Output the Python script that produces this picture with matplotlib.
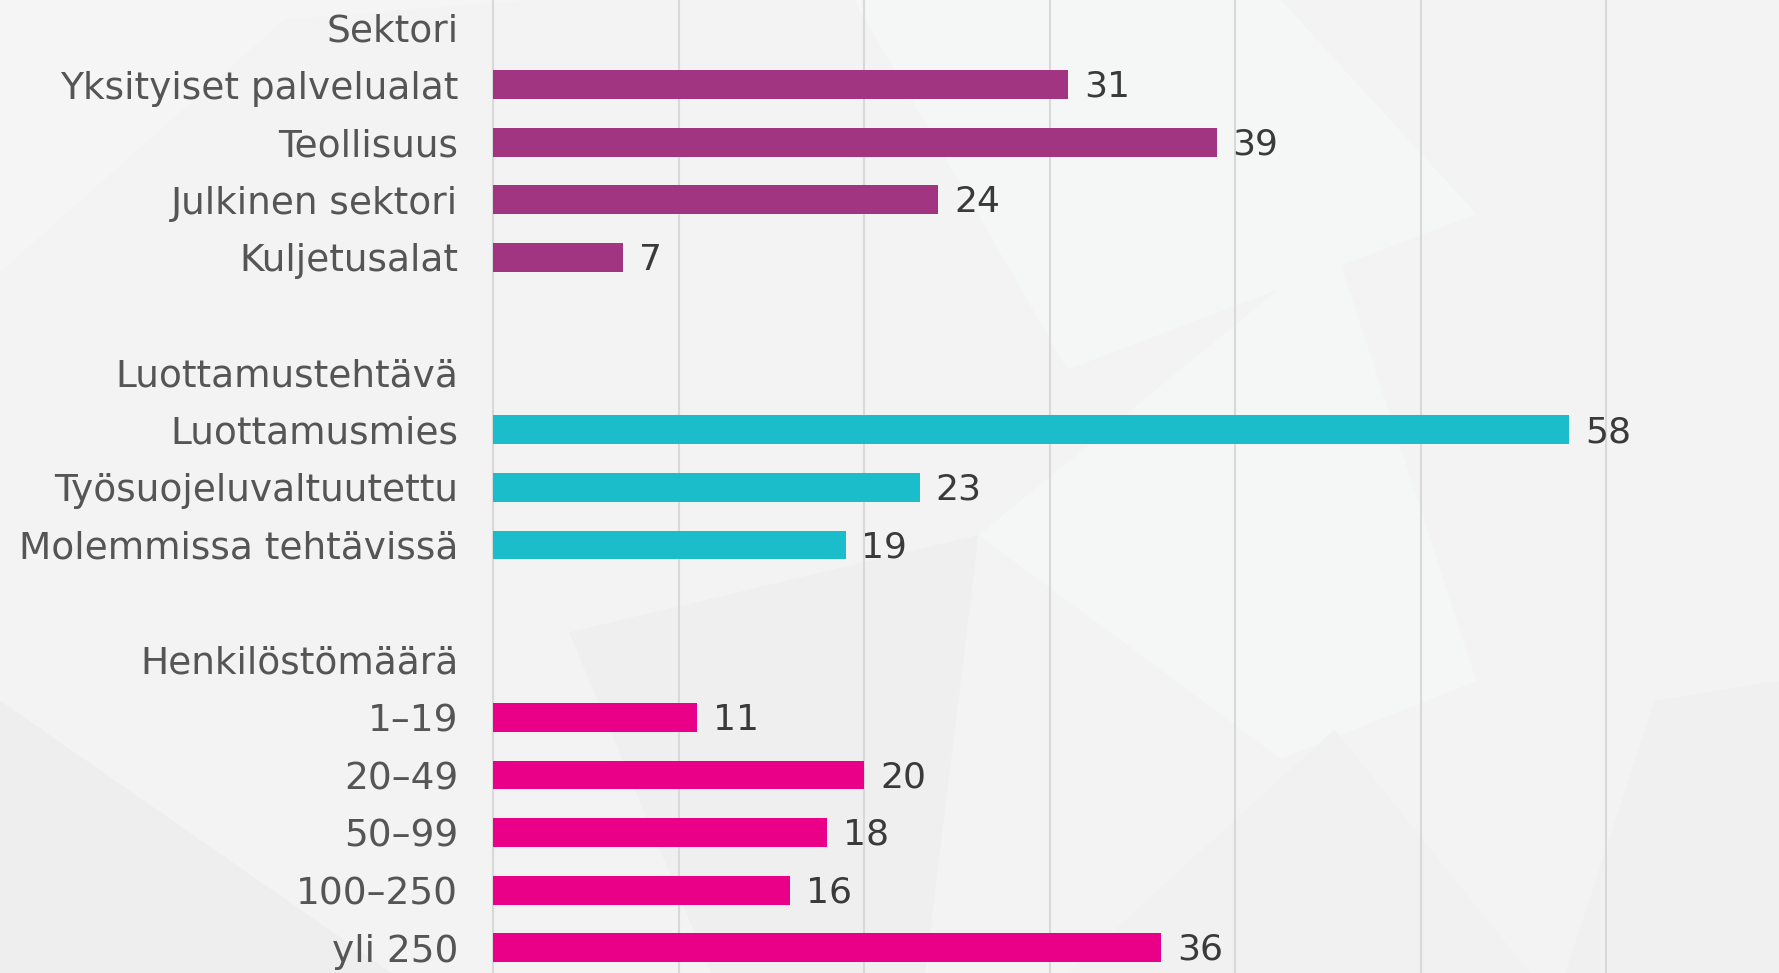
import numpy as np
import matplotlib.pyplot as plt
from matplotlib.patches import Polygon

# tietoja
sektori = ['Yksityiset palvelualat', 'Teollisuus', 'Julkinen sektori', 'Kuljetusalat']
sektori_val = [31, 39, 24, 7]
tehtava = ['Luottamusmies', 'Työsuojeluvaltuutettu', 'Molemmissa tehtävissä']
tehtava_val = [58, 23, 19]
henkilosto = ['1–19', '20–49', '50–99', '100–250', 'yli 250']
henkilosto_val = [11, 20, 18, 16, 36]
groups = ['Sektori', 'Luottamustehtävä', 'Henkilöstömäärä']
colors = ['#a23582', '#1bbdca', '#ea0088']

plt.rcParams['font.family'] = ['DejaVu Sans']

fig = plt.figure(figsize=(17.79, 9.73), dpi=100)
fig.patch.set_facecolor('#f3f3f3')

# taustan vaaleat monikulmiot
bg = fig.add_axes([0, 0, 1, 1], zorder=-1)
bg.set_xlim(0, 1)
bg.set_ylim(0, 1)
bg.axis('off')
shapes = [
    ([(0, 0.72), (0.16, 0.98), (0.30, 1.0), (0, 1.0)], '#f5f5f5'),
    ([(0.0, 0.28), (0.22, 0.0), (0.0, 0.0)], '#eeeeee'),
    ([(0.32, 0.35), (0.55, 0.45), (0.52, 0.0), (0.40, 0.0)], '#efefef'),
    ([(0.55, 0.45), (0.75, 0.75), (0.83, 0.30), (0.72, 0.22)], '#f5f6f6'),
    ([(0.48, 1.0), (0.72, 1.0), (0.83, 0.78), (0.60, 0.62)], '#f5f6f6'),
    ([(0.88, 0.0), (1.0, 0.0), (1.0, 0.30), (0.93, 0.28)], '#f0f0f0'),
    ([(0.60, 0.0), (0.86, 0.0), (0.75, 0.25)], '#f1f1f1'),
]
for pts, c in shapes:
    bg.add_patch(Polygon(pts, closed=True, facecolor=c, edgecolor='none'))

ax = fig.add_axes([493 / 1779, 0, 1 - 493 / 1779, 1])
ax.set_facecolor('none')

labels = []
values = []
cols = []
blocks = [(groups[0], sektori, sektori_val, colors[0]),
          (groups[1], tehtava, tehtava_val, colors[1]),
          (groups[2], henkilosto, henkilosto_val, colors[2])]
for i, (g, cats, vals, c) in enumerate(blocks):
    labels.append(g)
    values.append(None)
    cols.append(c)
    for cat, v in zip(cats, vals):
        labels.append(cat)
        values.append(v)
        cols.append(c)
    if i < len(blocks) - 1:
        labels.append('')
        values.append(None)
        cols.append(c)

y = np.arange(len(labels))
for yi, v, c in zip(y, values, cols):
    if v is None:
        continue
    ax.barh(yi, v, height=0.5, color=c, zorder=3)
    ax.text(v + 0.85, yi + 0.04, str(v), va='center', ha='left', fontsize=26,
            color='#3a3a3a', zorder=4)

ax.set_yticks(y)
ax.set_yticklabels(labels, fontsize=27, color='#555555')
ax.tick_params(axis='y', length=0, pad=25)
ax.set_xticks(np.arange(0, 70, 10))
ax.tick_params(axis='x', length=0, labelbottom=False)
ax.set_xlim(0, 69.3)
ax.set_ylim(16.44, -0.47)
ax.grid(axis='x', color='#d9d9d9', linewidth=1.5, zorder=0)
for s in ['top', 'right', 'bottom']:
    ax.spines[s].set_visible(False)
ax.spines['left'].set_color('#d9d9d9')
ax.spines['left'].set_linewidth(1.5)

plt.savefig('out.png', dpi=100, facecolor=fig.get_facecolor())
